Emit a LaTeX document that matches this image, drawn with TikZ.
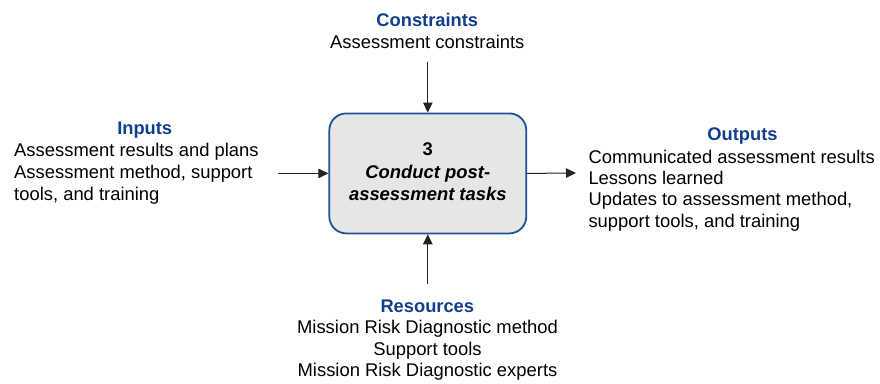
\documentclass[tikz,border=0pt]{standalone}
\usepackage{fontspec}
\setmainfont{Liberation Sans}
\usetikzlibrary{arrows.meta}
\definecolor{headblue}{RGB}{18,62,140}
\definecolor{boxedge}{RGB}{32,82,152}
\definecolor{boxfill}{RGB}{230,230,230}
\definecolor{linkgray}{RGB}{35,35,35}
\tikzset{
  heading/.style={anchor=base, inner sep=0pt, text=headblue,
    font=\fontsize{18.3}{22}\selectfont\bfseries},
  body/.style={inner sep=0pt, text=black, font=\fontsize{18.4}{22}\selectfont},
  boxtext/.style={anchor=base, inner sep=0pt, text=black,
    font=\fontsize{18.4}{22}\selectfont\bfseries},
  activity/.style={draw=boxedge, fill=boxfill, line width=1.8pt,
    rounded corners=17pt, minimum width=197pt, minimum height=120pt,
    inner sep=0pt},
  link/.style={draw=linkgray, line width=1pt,
    -{Triangle[length=10pt,width=9.5pt]}}
}
\begin{document}
\begin{tikzpicture}[x=1pt,y=-1pt]
\useasboundingbox (0,0) rectangle (880,383);

% activity box
\node[activity] (box) at (427.8,173.4) {};
\node[boxtext] (bnum) at (427.8,155.7) {3};
\node[boxtext] (bl1) at (427.8,178.3) {\itshape Conduct post-};
\node[boxtext] (bl2) at (427.8,200.0) {\itshape assessment tasks};

% constraints (top)
\node[heading] (conH) at (427.3,26) {Constraints};
\node[body, anchor=base] (con1) at (427.3,48) {Assessment constraints};

% inputs (left)
\node[heading] (inH) at (144.7,134) {Inputs};
\node[body, anchor=base west] (in1) at (14,156.7) {Assessment results and plans};
\node[body, anchor=base west] (in2) at (14,178.3) {Assessment method, support};
\node[body, anchor=base west] (in3) at (14,200.0) {tools, and training};

% outputs (right)
\node[heading] (outH) at (742.5,140) {Outputs};
\node[body, anchor=base west] (out1) at (588.3,163.3) {Communicated assessment results};
\node[body, anchor=base west] (out2) at (588.3,184.6) {Lessons learned};
\node[body, anchor=base west] (out3) at (588.3,205.9) {Updates to assessment method,};
\node[body, anchor=base west] (out4) at (588.3,227.2) {support tools, and training};

% resources (bottom)
\node[heading] (resH) at (427.3,312.7) {Resources};
\node[body, anchor=base] (res1) at (427.5,333.5) {Mission Risk Diagnostic method};
\node[body, anchor=base] (res2) at (427.5,355.0) {Support tools};
\node[body, anchor=base] (res3) at (427.5,376.3) {Mission Risk Diagnostic experts};

% free ends of the connectors
\coordinate (ctop) at (427.8,62);
\coordinate (cbot) at (427.8,284);
\coordinate (cin) at (278,173.4);
\coordinate (cout) at (576,173.0);

\draw[link] (ctop) -- (box.north);
\draw[link] (cbot) -- (box.south);
\draw[link] (cin) -- (box.west);
\draw[link] (box.east) -- (cout);
\end{tikzpicture}
\end{document}
